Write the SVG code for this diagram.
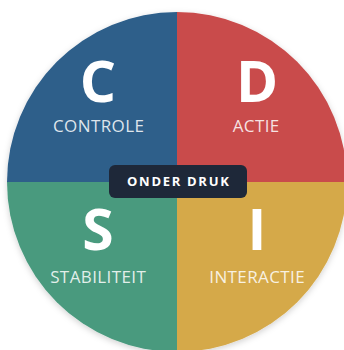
<svg xmlns="http://www.w3.org/2000/svg" width="344" height="350" viewBox="0 0 344 350">
  <defs>
    <style>
      .big { font-family: "Open Sans", "DejaVu Sans", sans-serif; font-weight: 700; font-size: 57px; fill: #ffffff; text-anchor: middle; }
      .lbl { font-family: "Open Sans", "DejaVu Sans", sans-serif; font-weight: 400; font-size: 17px; fill: #ffffff; fill-opacity: 0.85; text-anchor: middle; letter-spacing: 0.4px; }
      .tag { font-family: "Open Sans", "DejaVu Sans", sans-serif; font-weight: 700; font-size: 13px; fill: #ffffff; text-anchor: middle; letter-spacing: 1.7px; }
    </style>
    <clipPath id="circ"><circle cx="177" cy="182" r="170"/></clipPath>
    <filter id="sh" x="-10%" y="-10%" width="120%" height="120%">
      <feDropShadow dx="0" dy="2" stdDeviation="3" flood-color="#000" flood-opacity="0.18"/>
    </filter>
  </defs>
  <rect width="344" height="350" fill="#ffffff"/>
  <g filter="url(#sh)">
    <g clip-path="url(#circ)">
      <g id="node-c">
        <rect x="0" y="0" width="177" height="182" fill="#2d5e8a"/>
      </g>
      <g id="node-d">
        <rect x="177" y="0" width="180" height="182" fill="#c94b4b"/>
      </g>
      <g id="node-s">
        <rect x="0" y="182" width="177" height="180" fill="#4a9a7e"/>
      </g>
      <g id="node-i">
        <rect x="177" y="182" width="180" height="180" fill="#d5a94a"/>
      </g>
    </g>
  </g>
  <g id="text-c">
    <text class="big" x="98" y="102">C</text>
    <text class="lbl" x="98.7" y="132">CONTROLE</text>
  </g>
  <g id="text-d">
    <text class="big" x="257" y="102">D</text>
    <text class="lbl" x="256.2" y="132">ACTIE</text>
  </g>
  <g id="text-s">
    <text class="big" x="98" y="250">S</text>
    <text class="lbl" x="98.2" y="283">STABILITEIT</text>
  </g>
  <g id="text-i">
    <text class="big" x="257" y="250">I</text>
    <text class="lbl" x="257.2" y="283">INTERACTIE</text>
  </g>
  <g id="node-onder-druk">
    <rect x="109" y="165" width="138" height="33" rx="6" fill="#1e2839"/>
    <text class="tag" x="178.8" y="186">ONDER DRUK</text>
  </g>
</svg>
